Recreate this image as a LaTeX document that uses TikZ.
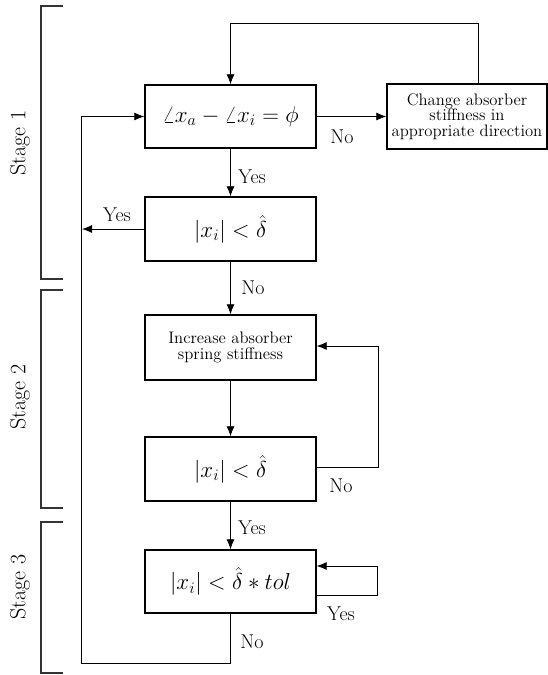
\documentclass[tikz,border=0pt]{standalone}
\usetikzlibrary{arrows.meta}
\begin{document}
\begin{tikzpicture}[x=0.75pt,y=-0.75pt,
  box/.style={draw,line width=1pt,minimum width=128.25pt,inner sep=1pt,align=center,font=\fontsize{16.5}{18}\selectfont},
  smallbox/.style={box,font=\fontsize{12.5}{11.8}\selectfont},
  conn/.style={line width=0.6pt},
  arr/.style={conn,-{Latex[length=7.5pt,width=6pt]}},
  lbl/.style={font=\fontsize{15}{17}\selectfont,inner sep=0pt},
  brk/.style={line width=0.8pt,draw=black!80},
  stage/.style={font=\fontsize{16.5}{18}\selectfont,rotate=90,inner sep=0pt}]
\useasboundingbox (0,0) rectangle (548,675);

\node[box,minimum height=47.25pt] (A) at (230.5,116.5) {$\angle x_a - \angle x_i = \phi$};
\node[box,minimum height=48pt] (B) at (230.5,229) {$|x_i| < \hat{\delta}$};
\node[smallbox,minimum height=48.75pt] (C) at (230.5,347.5) {Increase absorber\\spring stiffness};
\node[box,minimum height=48pt] (D) at (230.5,469) {$|x_i| < \hat{\delta}$};
\node[box,minimum height=47.25pt] (E) at (230.5,581.5) {$|x_i| < \hat{\delta} * tol$};
\node[smallbox,minimum width=120pt,minimum height=48.75pt,inner sep=0pt] (F) at (467,116.5) {Change absorber\\stiffness in\\appropriate direction};

\coordinate (top) at (0,23);
\coordinate (bot) at (81,663);
\coordinate (lft) at (82,229);

% top feedback loop
\draw[arr] ([xshift=8.25pt]F.north) -- ([xshift=8.25pt]F.north |- top) -| (A.north);
% A -> F
\draw[arr] (A.east) -- (F.west);
\node[lbl] (noA) at (342,137) {No};
% A -> B
\draw[arr] (A.south) -- (B.north);
\node[lbl] (yesA) at (252,177) {Yes};
% B -> left line
\draw[arr] (B.west) -- (lft);
\node[lbl] (yesB) at (117,215) {Yes};
% E -> back to A
\draw[arr] (E.south) |- (bot) |- (A.west);
\node[lbl] (noE) at (252,642) {No};
% B -> C
\draw[arr] (B.south) -- (C.north);
\node[lbl] (noB) at (253,288) {No};
% C -> D
\draw[arr] (C.south) -- (D.north);
% D loop
\draw[arr] ([yshift=1.5pt]D.east) -- ++(62,0) |- ([yshift=1.125pt]C.east);
\node[lbl] (noD) at (341,486) {No};
% D -> E
\draw[arr] (D.south) -- (E.north);
\node[lbl] (yesD) at (252,528) {Yes};
% E self loop
\draw[arr] ([yshift=-10.125pt]E.east) -- ++(61,0) |- ([yshift=11.625pt]E.east);
\node[lbl] (yesE) at (341,614) {Yes};

% stage brackets
\draw[brk] (63,6) -- (41,6) -- (41,279) -- (63,279);
\draw[brk] (63,290) -- (41,290) -- (41,508) -- (63,508);
\draw[brk] (63,522) -- (41,522) -- (41,673) -- (63,673);
\node[stage] (s1) at (20,143) {Stage 1};
\node[stage] (s2) at (20,397) {Stage 2};
\node[stage] (s3) at (20,587) {Stage 3};
\end{tikzpicture}
\end{document}
